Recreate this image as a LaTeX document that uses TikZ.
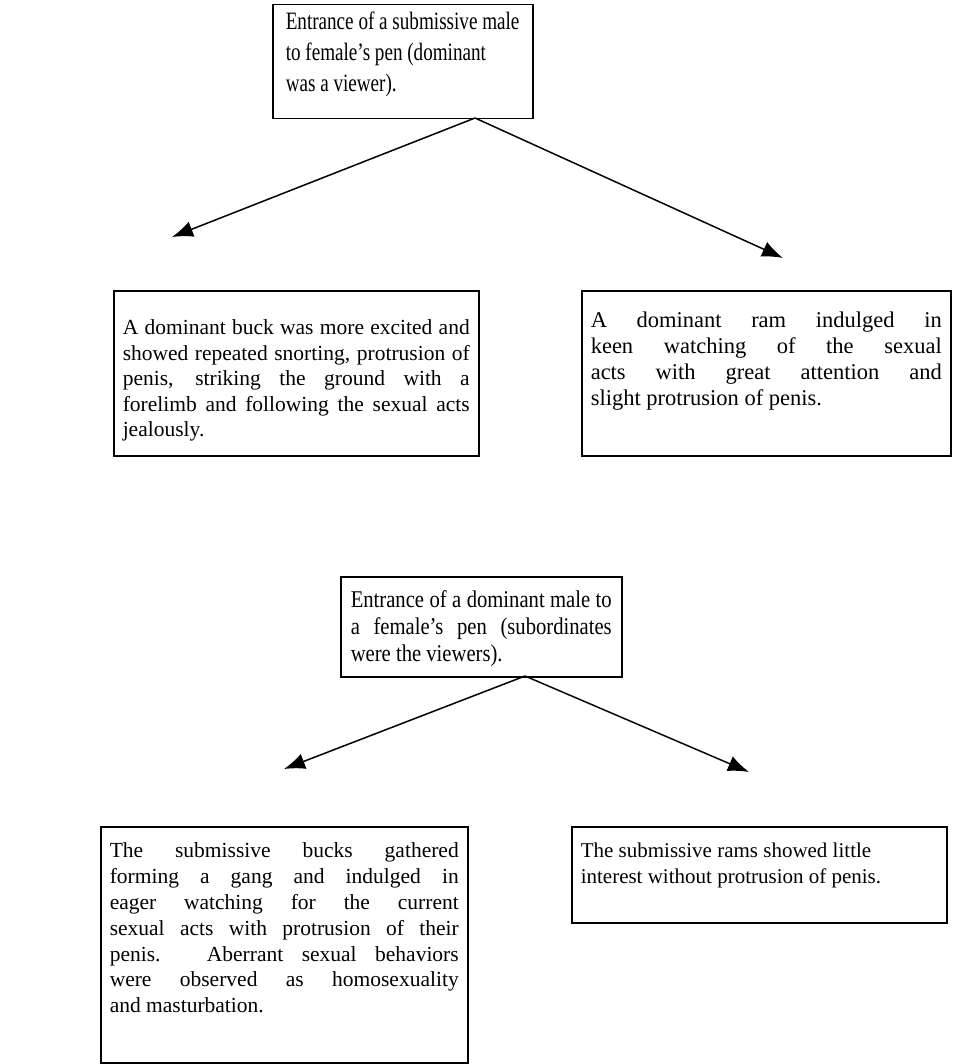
\documentclass[tikz,border=0pt]{standalone}
\usepackage{fontspec}
\setmainfont{Liberation Serif}
\newfontfamily\headfont[FakeStretch=0.765]{Liberation Serif}
\newfontfamily\midfont[FakeStretch=0.86]{Liberation Serif}
\usetikzlibrary{arrows.meta}
\newcommand{\jl}[1]{\noindent\makebox[\linewidth][s]{\strut #1}\par}
\newcommand{\rl}[1]{\noindent\strut #1\par}
% width, height, first-line top offset, font size, baselineskip, content
\newcommand{\bxt}[6]{\parbox[t][#2][t]{#1}{\fontsize{#4}{#5}\selectfont\vspace*{#3}#6}}
\begin{document}
\begin{tikzpicture}[x=1pt,y=-1pt,
  box/.style={draw, line width=1.5pt, inner ysep=0pt, anchor=north west},
  conn/.style={line width=1.5pt, -{Latex[length=21pt,width=16pt]}}]
\useasboundingbox (0,0) rectangle (952,1064);
% top box
\node[box, inner xsep=13pt] (top) at (272,4)
  {\headfont\bxt{234pt}{114pt}{3.5pt}{25pt}{31pt}{%
   \rl{Entrance of a submissive male}
   \rl{to female’s pen (dominant}
   \rl{was a viewer).}}};
\node[box, inner xsep=9pt] (bl1) at (113,290)
  {\bxt{347pt}{165pt}{26pt}{21.5pt}{25.5pt}{%
   \jl{A dominant buck was more excited and}
   \jl{showed repeated snorting, protrusion of}
   \jl{penis, striking the ground with a}
   \jl{forelimb and following the sexual acts}
   \rl{jealously.}}};
\node[box, inner xsep=9pt] (br1) at (581,290)
  {\bxt{351pt}{165pt}{19pt}{22.5pt}{25.8pt}{%
   \jl{A dominant ram indulged in}
   \jl{keen watching of the sexual}
   \jl{acts with great attention and}
   \rl{slight protrusion of penis.}}};
\node[box, inner xsep=10pt] (mid) at (340,576)
  {\midfont\bxt{261pt}{100pt}{12pt}{24pt}{27pt}{%
   \jl{Entrance of a dominant male to}
   \jl{a female’s pen (subordinates}
   \rl{were the viewers).}}};
\node[box, inner xsep=9pt] (bl2) at (100,826)
  {\bxt{349pt}{236pt}{13pt}{21.5pt}{25.8pt}{%
   \jl{The submissive bucks gathered}
   \jl{forming a gang and indulged in}
   \jl{eager watching for the current}
   \jl{sexual acts with protrusion of their}
   \jl{penis. Aberrant sexual behaviors}
   \jl{were observed as homosexuality}
   \rl{and masturbation.}}};
\node[box, inner xsep=9pt] (br2) at (571,826)
  {\bxt{357pt}{96pt}{13pt}{21pt}{25.8pt}{%
   \rl{The submissive rams showed little}
   \rl{interest without protrusion of penis.}}};
% connectors
\coordinate (t0) at (475,118);
\coordinate (t1) at (172,237);
\coordinate (t2) at (783,258);
\coordinate (m0) at (525,676);
\coordinate (m1) at (284,769);
\coordinate (m2) at (749,772);
\draw[conn] (t0) -- (t1);
\draw[conn] (t0) -- (t2);
\draw[conn] (m0) -- (m1);
\draw[conn] (m0) -- (m2);
\end{tikzpicture}
\end{document}
